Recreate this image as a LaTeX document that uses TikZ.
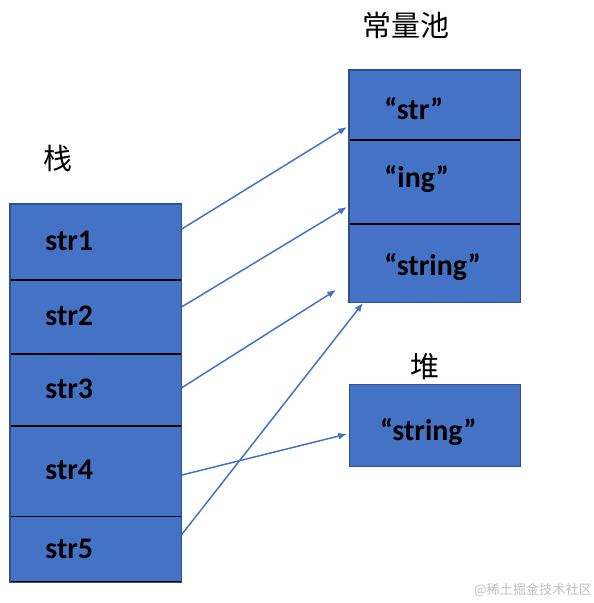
\documentclass[tikz,border=0pt]{standalone}
\usepackage{fontspec}
\setmainfont{Carlito}
\newfontfamily\cjkfont{Noto Sans CJK SC}
\usetikzlibrary{arrows.meta,calc,positioning}
\definecolor{cellblue}{HTML}{4472C4}
\definecolor{edgeblue}{HTML}{2F528F}
\begin{document}
\begin{tikzpicture}[x=0.02cm,y=-0.02cm,
  cell/.style={draw=black,line width=0.5pt,fill=cellblue,inner xsep=0.7cm,inner ysep=0pt,
    text width=2.02cm,text height=13pt,text depth=3pt,align=left,
    font=\bfseries\fontsize{17}{20}\selectfont},
  title/.style={font=\cjkfont\fontsize{16.5}{20}\selectfont},
  ptr/.style={-{Latex[length=5pt,width=4pt]},cellblue,line width=0.85pt},
  wmtext/.style={font=\cjkfont\fontsize{7.5}{9}\selectfont,text=black!25}]
\useasboundingbox (0,0) rectangle (593,603);

% stack
\node[cell,anchor=north west,minimum height=1.5cm] (st1) at (10,204) {str1};
\node[cell,below=0pt of st1,minimum height=1.46cm] (st2) {str2};
\node[cell,below=0pt of st2,minimum height=1.42cm] (st3) {str3};
\node[cell,below=0pt of st3,minimum height=1.8cm] (st4) {str4};
\node[cell,below=0pt of st4,minimum height=1.3cm] (st5) {str5};
\draw[edgeblue,line width=0.6pt] (st1.north west) rectangle (st5.south east);

% constant pool
\node[cell,anchor=north west,minimum height=1.38cm,text height=19.6pt] (pool1) at (349,70) {“str”};
\node[cell,below=0pt of pool1,minimum height=1.66cm,text height=10pt] (pool2) {“ing”};
\node[cell,below=0pt of pool2,minimum height=1.56cm,text height=16.8pt] (pool3) {“string”};
\draw[edgeblue,line width=0.6pt] (pool1.north west) rectangle (pool3.south east);

% heap
\node[cell,draw=edgeblue,anchor=north west,minimum height=1.64cm,text height=20pt] (heap1) at (349,384) {\hspace*{-5\pgflinewidth}“string”};

\node[title] (stacklbl) at (58,158) {栈};
\node[title] (poollbl) at (406,25) {常量池};
\node[title] (heaplbl) at (425,367) {堆};

\coordinate (e1) at (347,127);
\coordinate (e2) at (347,207);
\coordinate (e3) at (336,290);
\coordinate (e4) at (347,434);
\coordinate (e5) at (363,303);

\draw[ptr] ($(st1.east)+(0,-13)$) -- (e1);
\draw[ptr] ($(st2.east)+(0,-10)$) -- (e2);
\draw[ptr] ($(st3.east)+(0,-2)$) -- (e3);
\draw[ptr] ($(st4.east)+(0,4)$) -- (e4);
\draw[ptr] ($(st5.east)+(0,-15)$) -- (e5);

\node[wmtext] (wm) at (533,590) {@稀土掘金技术社区};
\end{tikzpicture}
\end{document}
